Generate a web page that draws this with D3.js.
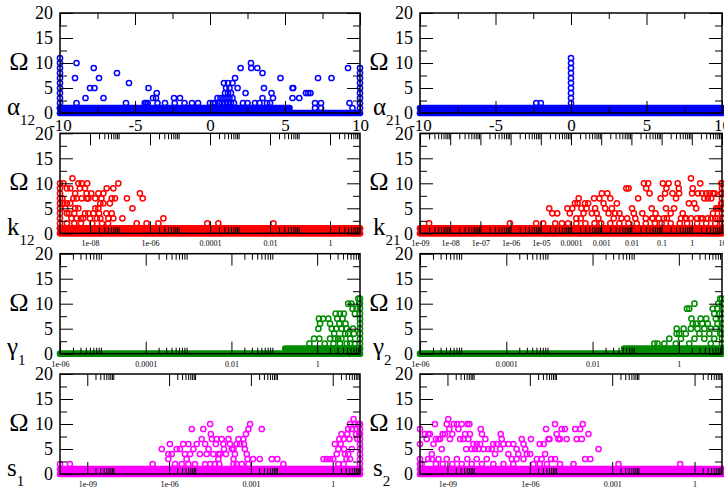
<!DOCTYPE html>
<html>
<head>
<meta charset="utf-8">
<script src="https://cdn.jsdelivr.net/npm/d3@7"></script>
<style>
  body { margin: 0; background: #fff; }
  text { font-family: "Liberation Serif", "DejaVu Serif", serif; }
</style>
</head>
<body>
<svg id="chart" width="724" height="490"></svg>
<script>
// ---- tick values / labels ----
const omegaMajor = [0, 5, 10, 15, 20];
const omegaMinor = [2.5, 7.5, 12.5, 17.5];

const alphaMajor = [-10, -5, 0, 5, 10];
const alphaMinor = [-7.5, -2.5, 2.5, 7.5];
const alphaLabels = ["-10", "-5", "0", "5", "10"];

const k12Major = [1e-8, 1e-6, 1e-4, 1e-2, 1];
const k12Labels = ["1e-08", "1e-06", "0.0001", "0.01", "1"];

const k21Major = [1e-9, 1e-8, 1e-7, 1e-6, 1e-5, 1e-4, 1e-3, 1e-2, 0.1, 1, 10];
const k21Labels = ["1e-09", "1e-08", "1e-07", "1e-06", "1e-05", "0.0001", "0.001", "0.01", "0.1", "1", "10"];

const gammaMajor = [1e-6, 1e-4, 1e-2, 1];
const gammaLabels = ["1e-06", "0.0001", "0.01", "1"];

const sMajor = [1e-9, 1e-6, 1e-3, 1];
const sLabels = ["1e-09", "1e-06", "0.001", "1"];

// ---- dense rows of points: [xFrom, xTo, omega] ----
const alpha12Band = [[-10, 10, 0], [-10, 5.3, 1]];
const alpha21Band = [[-10, 10, 0], [-10, 10, 1]];
const k12Band = [[1e-9, 10, 0], [1e-9, 10, 1]];
const k21Band = [[1e-9, 10, 0], [1e-9, 10, 1]];
const gamma1Band = [[1e-6, 10, 0], [0.18, 10, 1]];
const gamma2Band = [[1e-6, 10, 0], [0.054, 10, 1]];
const s1Band = [[1e-10, 10, 0], [1e-10, 10, 1]];
const s2Band = [[1e-10, 10, 0], [1e-10, 10, 1]];

// ---- scattered points: [x, omega] ----
const alpha12Pts = [
  [-10,1],[-10,2],[-10,3],[-10,4],[-10,5],[-10,6],[-10,7],[-10,8],[-10,9],[-10,10],[-10,11],
  [-8.9,10],[-9.0,7],[-8.9,2],[-7.75,9],[-7.4,7],[-8.0,5],[-7.7,5],[-8.3,3],[-7.1,3],
  [-6.2,8],[-5.4,6],[-5.6,2],[-4.1,5],[-4.35,2],[-4.25,2],[-4.15,2],[-3.8,3],[-3.6,3],
  [-3.55,4],[-3.5,2],[-3.0,2],[-2.4,3],[-2.35,2],[-2.0,3],[-1.7,2],[-1.2,2],[-0.8,2],
  [0.0,2],[0.2,2],[0.35,2],[0.5,3],[0.7,3],[0.6,2],[0.8,2],[0.9,3],[1.0,4],[1.0,2],
  [1.1,3],[1.2,2],[1.3,3],[1.4,2],[1.4,4],[1.5,3],[1.6,2],[0.93,6],[1.07,5],[1.2,4],
  [1.3,5],[1.2,6],[1.5,6],[1.67,7],[1.84,5],[2.04,9],[2.2,2],[2.37,4],[2.5,2],[2.73,10],
  [2.75,9],[3.0,2],[3.15,9],[3.3,2],[3.5,8],[3.6,5],[3.5,3],[3.8,2],[4.0,2],[4.1,4],
  [4.2,3],[4.7,7],[5.5,5],[5.55,5],[5.5,3],[5.95,3],[6.4,4],[6.55,4],[6.7,4],[7.0,2],
  [7.2,7],[7.4,2],[8.1,7],[9.2,9],[9.3,2],[9.5,1],[7.0,1],[7.4,1],
  [10,1],[10,2],[10,3],[10,4],[10,5],[10,6],[10,7],[10,8],[10,9]
];

const alpha21Pts = [
  [0,1],[0,2],[0,3],[0,4],[0,5],[0,6],[0,7],[0,8],[0,9],[0,10],[0,11],
  [-2.3,2],[-2.0,2]
];

const k12Pts = [
  [1e-9,1],[1e-9,2],[1e-9,3],[1e-9,4],[1e-9,5],[1e-9,6],[1e-9,7],[1e-9,8],[1e-9,9],[1e-9,10],
  [1.3e-9,10],[1.7e-9,9],[2.6e-9,11],[2.2e-9,9],[3.2e-9,8],[4.1e-9,10],[4.6e-9,9],[5.3e-9,10],
  [6.8e-9,9],[8.1e-9,10],[7.7e-9,8],[8.8e-9,7],[1.1e-8,8],[1.5e-8,7],[1.9e-8,8],[2.4e-8,7],
  [2.8e-8,8],[3.6e-8,9],[5.3e-8,7],[6e-8,9],[6.8e-8,7],[8.8e-8,10],
  [1.3e-9,6],[1.7e-9,6],[2.2e-9,6],[1.5e-9,5],[3.2e-9,5],[4.1e-9,5],[1.7e-9,4],[6.8e-9,4],
  [8.8e-9,4],[1.5e-8,5],[1.9e-8,5],[2.2e-8,6],[2.8e-8,6],[4.6e-8,6],[5.3e-8,4],[4.1e-8,3],
  [6e-8,3],[1e-8,3],[1.7e-8,3],[2.2e-8,3],[3.6e-9,3],[2.4e-9,3],[6e-9,3],[1.2e-9,7],
  [2.8e-9,7],[3.6e-9,7],[5.3e-9,7],[7.7e-9,7],[2e-9,4],[3e-9,4],[5e-9,3],[1.3e-8,4],
  [2e-8,4],[3.5e-8,4],[1.7e-9,2],[3e-9,2],[5e-9,2],[1.2e-8,2],[2.5e-8,2],[4e-8,2],
  [1.7e-7,7],[2.6e-7,5],[4.6e-7,8],[5.7e-7,7],[1.2e-7,3],[3.6e-7,2],[7.7e-7,2],[1.9e-6,2],
  [2.8e-6,3],[8.1e-5,2],[1.9e-4,2],[0.013,2]
];

const k21Pts = [
  [2e-9,2],[9.5e-7,2],[7e-6,2],[1.2e-5,2],[1.9e-5,5],[2.4e-5,4],[3.5e-5,4],[7.6e-5,5],
  [9.1e-5,4],[1.1e-4,5],[1.35e-4,6],[1.65e-4,6],[1.8e-4,7],[2.2e-4,5],[2.6e-4,4],[1.5e-4,3],
  [2.1e-4,3],[2.9e-4,6],[3.3e-4,5],[3.7e-4,6],[4.9e-4,4],[5.8e-4,7],[6.3e-4,5],[7.1e-4,4],
  [8.1e-4,3],[8.7e-4,7],[1.05e-3,8],[1.2e-3,6],[1.35e-3,5],[1.6e-3,8],[1.75e-3,4],[2e-3,7],
  [2.25e-3,5],[2.6e-3,3],[2.9e-3,4],[3.3e-3,6],[4e-3,4],[4.7e-3,3],[6.8e-3,9],[8.1e-3,9],
  [7.2e-3,3],[0.0105,5],[0.012,4],[0.0135,3],[0.0167,7],[0.026,10],[0.031,9],[0.036,10],
  [0.04,8],[0.023,4],[0.03,3],[0.047,5],[0.049,3],[0.063,4],[0.093,7],[0.11,10],[0.13,8],
  [0.145,9],[0.17,10],[0.23,8],[0.14,5],[0.12,3],[0.2,4],[0.26,5],[0.34,10],[0.37,9],
  [0.38,8],[0.3,7],[0.44,3],[0.5,4],[0.65,3],[0.8,6],[0.94,11],[1.07,9],[1.02,8],[1.2,6],
  [0.94,3],[1.4,5],[1.6,8],[1.9,10],[2.2,8],[2.6,7],[3,8],[3.4,7],[3.9,8],[4.4,7],[5,8],
  [5.7,8],[6.4,5],[7.3,5],[8.3,5],[9.5,10],[9.5,8],[9.5,6],[2.3,3],[3.4,3],[5,4],[7.3,3],
  [4.4,3],[3e-5,2],[5e-5,2],[8e-5,2],[1.5e-4,2],[3e-4,2],[6e-4,2],[1e-3,2],[2e-3,2],
  [4e-3,2],[8e-3,2],[0.015,2],[0.03,2],[0.06,2],[0.1,2],[0.2,2],[0.4,2],[0.7,2],[1.5,2],
  [3,2],[6,2],[0.05,3],[0.08,3],[0.15,3],[0.6,3],[1.5,3],[2,3],[6,3],
  [10,2],[10,3],[10,4],[10,5],[10,6],[10,7],[10,8],[10,9],[10,10]
];

const gamma1Pts = [
  [0.66,2],[0.85,3],[1.12,3],[1.07,5],[1.17,6],[1.1,7],[1.38,7],[1.82,7],[2.0,6],[2.2,5],
  [2.5,4],[2.7,8],[2.95,7],[3.3,6],[3.4,8],[3.9,7],[4.2,8],[4.6,6],[5.3,10],[6.3,10],
  [6.7,9],[7.6,8],[8.3,9],[9.1,11],[9.6,10],[2.6,3],[3.1,3],[3.7,3],[4.5,4],[4.9,5],
  [5.3,4],[5.9,3],[6.9,5],[7.2,4],[7.6,2],[5.9,2],[4.9,2],[3.4,2],[2.4,2],[1.5,2],[2.0,3],
  [2.8,5],[3.7,5],
  [10,2],[10,3],[10,4],[10,5],[10,6],[10,7],[10,8],[10,9],[10,10],[10,11]
];

const gamma2Pts = [
  [0.27,2],[0.32,2],[0.46,2],[0.6,3],[0.85,2],[0.89,4],[0.89,5],[1.02,4],[1.12,3],[1.29,5],
  [1.45,4],[1.54,9],[1.74,9],[2.3,10],[1.96,7],[2.1,6],[1.9,5],[2.5,6],[2.7,5],[3.0,4],
  [3.2,7],[3.5,6],[3.9,5],[4.3,7],[4.7,6],[5.1,4],[5.5,5],[6.1,9],[6.6,8],[7.2,7],[7.9,9],
  [8.2,10],[8.7,8],[9.1,11],[9.1,4],[6.6,3],[5.5,2],[3.9,3],[2.3,3],[1.74,2],[7.2,5],[7.9,6],
  [10,2],[10,3],[10,4],[10,5],[10,6],[10,7],[10,8],[10,9],[10,10],[10,11]
];

const s1Pts = [
  [1e-10,2],[2.3e-10,2],[2.5e-7,2],[5.4e-7,5],[9.4e-7,3],[1.07e-6,6],[9.4e-7,4],[1.25e-6,4],
  [1.9e-6,5],[2.5e-6,5],[1.65e-6,2],[2.9e-6,2],[3.3e-6,6],[3.8e-6,4],[4.4e-6,3],[5.1e-6,6],
  [5.9e-6,4],[6.8e-6,9],[5.1e-6,2],[8.9e-6,2],[7.8e-6,5],[1.03e-5,6],[1.35e-5,4],[1.57e-5,7],
  [1.8e-5,9],[2.1e-5,6],[2.4e-5,4],[2.8e-5,5],[3.2e-5,10],[3.4e-5,8],[3.7e-5,7],[4.2e-5,4],
  [5.2e-5,6],[5.6e-5,7],[6.4e-5,4],[7.4e-5,4],[2.1e-5,2],[3.2e-5,2],[4.8e-5,2],[6.9e-5,2],
  [8.5e-5,7],[9.8e-5,6],[1.03e-4,5],[1.22e-4,4],[1.5e-4,7],[1.7e-4,9],[1.7e-4,6],[2e-4,5],
  [2.3e-4,5],[2.6e-4,4],[3e-4,6],[3.5e-4,7],[4e-4,6],[2.3e-4,2],[3e-4,2],[4.6e-4,2],
  [6.4e-5,3],[2.3e-4,3],[5.3e-4,7],[5.6e-4,6],[6e-4,5],[7e-4,4],[7.5e-4,3],[8.1e-4,2],
  [6.6e-4,8],[8.1e-4,9],[9.3e-4,10],[1.2e-3,3],[2.1e-3,3],[2.5e-3,9],[5.8e-3,3],[9.3e-3,3],
  [0.0155,2],
  [0.46,3],[0.6,3],[0.8,3],[1.05,3],[1.2,6],[1.4,4],[1.6,5],[1.75,7],[1.95,6],[2.1,8],
  [2.5,7],[2.6,5],[2.8,4],[3.2,3],[3.4,8],[3.7,9],[4.1,7],[4.3,10],[5,9],[5.8,11],[6.6,10],
  [7.2,8],[7.6,9],[8,7],[8.7,10],[9.5,8],[4.3,3],[3.7,4],[1.6,2],[2.5,2],[5,5],
  [10,2],[10,3],[10,4],[10,5],[10,6],[10,7],[10,8],[10,9],[10,10]
];

const s2Pts = [
  [1e-10,9],[1e-10,6],[1e-10,3],[1e-10,2],[1.5e-10,8],[2e-10,8],[1.75e-10,7],[2.3e-10,8],
  [3.5e-10,10],[2.7e-10,4],[3.1e-10,6],[3.8e-10,7],[4.7e-10,7],[5.4e-10,7],[6.2e-10,5],
  [6.7e-10,8],[8.1e-10,8],[9.4e-10,10],[1.07e-9,11],[1.17e-9,9],[1.23e-9,7],[1.5e-9,8],
  [1.7e-9,10],[2.2e-9,10],[2.5e-9,9],[2.9e-9,7],[3.3e-9,10],[3.8e-9,7],[4.4e-9,8],[4.8e-9,5],
  [5.3e-9,10],[5.8e-9,7],[6.3e-9,10],[6.6e-9,8],[7.6e-9,5],[8.8e-9,6],[1e-8,5],[1.17e-8,6],
  [1.35e-8,5],[1.63e-8,9],[1.8e-8,8],[1.55e-8,6],[2.1e-8,5],[2.4e-8,7],[3.1e-8,5],[4.1e-8,5],
  [4.7e-8,6],[5.4e-8,4],[6.2e-8,6],[8.7e-8,8],[9.5e-8,7],[8.3e-8,5],[1.1e-7,6],[1.66e-7,6],
  [1.66e-7,4],[2.2e-7,3],[2.5e-7,6],[3.3e-7,5],[3.8e-7,4],[5.1e-7,7],[5.9e-7,6],[6.8e-7,5],
  [5.9e-7,3],[7.8e-7,4],[1.03e-6,4],[1.1e-6,7],[3.3e-7,3],[1.8e-6,3],[2.3e-6,6],[2.7e-6,3],
  [3.2e-6,6],[3.6e-6,4],[3.9e-6,9],[4.8e-6,7],[5.2e-6,7],[6e-6,3],[8.3e-6,10],[8.3e-6,3],
  [9.5e-6,8],[1.1e-5,7],[1.26e-5,7],[1.45e-5,9],[1.9e-5,9],[2.2e-5,7],[4.5e-5,9],[5.1e-5,7],
  [6.8e-5,9],[8.5e-5,10],[7.8e-5,7],[1.03e-4,3],[1.37e-4,8],[1.6e-4,3],[3.2e-4,5],[1.7e-3,2],
  [0.3,2],
  [1.15e-10,2],[2e-10,3],[2.7e-10,3],[4.7e-10,3],[9.4e-10,3],[2.2e-9,3],[5.3e-9,3],
  [1.17e-8,3],[2.7e-8,3],[4.7e-8,2],[1.1e-7,2],[2.5e-7,2],[1.35e-6,2],[2.3e-6,2],[4.2e-6,2],
  [1.26e-5,2],[3.9e-5,2],[3.8e-10,2],[6.7e-10,2],[1.5e-9,2],[3.3e-9,2],[7.6e-9,2],[1.8e-8,2]
];

// ---- panel layout ----
const panels = [
  { row: 0, col: 0, log: false, domain: [-10, 10], major: alphaMajor, minor: alphaMinor, labels: alphaLabels, pts: alpha12Pts, band: alpha12Band, color: "#0000ff", name: "α", sub: "12" },
  { row: 0, col: 1, log: false, domain: [-10, 10], major: alphaMajor, minor: alphaMinor, labels: alphaLabels, pts: alpha21Pts, band: alpha21Band, color: "#0000ff", name: "α", sub: "21" },
  { row: 1, col: 0, log: true, domain: [1e-9, 10], major: k12Major, labels: k12Labels, pts: k12Pts, band: k12Band, color: "#ff0000", name: "k", sub: "12" },
  { row: 1, col: 1, log: true, domain: [1e-9, 10], major: k21Major, labels: k21Labels, pts: k21Pts, band: k21Band, color: "#ff0000", name: "k", sub: "21" },
  { row: 2, col: 0, log: true, domain: [1e-6, 10], major: gammaMajor, labels: gammaLabels, pts: gamma1Pts, band: gamma1Band, color: "#008b00", name: "γ", sub: "1" },
  { row: 2, col: 1, log: true, domain: [1e-6, 10], major: gammaMajor, labels: gammaLabels, pts: gamma2Pts, band: gamma2Band, color: "#008b00", name: "γ", sub: "2" },
  { row: 3, col: 0, log: true, domain: [1e-10, 10], major: sMajor, labels: sLabels, pts: s1Pts, band: s1Band, color: "#ff00ff", name: "s", sub: "1" },
  { row: 3, col: 1, log: true, domain: [1e-10, 10], major: sMajor, labels: sLabels, pts: s2Pts, band: s2Band, color: "#ff00ff", name: "s", sub: "2" }
];

const colX = [60, 420], colW = [300, 302];
const nameOffset = [53, 47];
const rowY = [13, 133.3, 253.7, 374], rowH = 100;
const serif = "'Liberation Serif','DejaVu Serif',serif";
const R = 2.6, SW = 1.5;

const svg = d3.select("#chart");

// log minor ticks: 2..9 times every major
const logMinor = (major, domain) => major
  .flatMap(m => [2, 3, 4, 5, 6, 7, 8, 9].map(k => m * k))
  .filter(v => v > domain[0] && v < domain[1]);

const styleAxis = (sel, size) => {
  sel.select(".domain").remove();
  sel.attr("font-family", serif).attr("font-size", size);
  sel.selectAll("line").attr("stroke", "#000").attr("stroke-width", 1);
  sel.selectAll("text").attr("fill", "#000");
};

panels.forEach(p => {
  const x0 = colX[p.col], w = colW[p.col], y0 = rowY[p.row], h = rowH;
  const x = (p.log ? d3.scaleLog() : d3.scaleLinear()).domain(p.domain).range([x0, x0 + w]);
  const y = d3.scaleLinear().domain([0, 20]).range([y0 + h, y0]);
  const minor = p.log ? logMinor(p.major, p.domain) : p.minor;
  const g = svg.append("g");

  g.append("rect")
    .attr("x", x0).attr("y", y0).attr("width", w).attr("height", h)
    .attr("fill", "#fff");

  // solid rows made of overlapping circles
  g.selectAll(".band").data(p.band).join("line")
    .attr("class", "band")
    .attr("x1", d => x(d[0])).attr("x2", d => x(d[1]))
    .attr("y1", d => y(d[2])).attr("y2", d => y(d[2]))
    .attr("stroke", p.color).attr("stroke-width", 2 * R + SW)
    .attr("stroke-linecap", "round");

  g.selectAll(".pt").data(p.pts).join("circle")
    .attr("class", "pt")
    .attr("cx", d => x(d[0])).attr("cy", d => y(d[1])).attr("r", R)
    .attr("fill", "none").attr("stroke", p.color).attr("stroke-width", SW);

  // x axis (bottom with labels, top mirrored)
  const labelSize = p.log ? 8 : 17;
  const xb = g.append("g").attr("transform", `translate(0,${y0 + h})`)
    .call(d3.axisBottom(x).tickValues(p.major).tickSize(-12).tickPadding(p.log ? 7.5 : 6)
      .tickFormat(d => p.labels[p.major.indexOf(d)]));
  styleAxis(xb, labelSize);
  const xbm = g.append("g").attr("transform", `translate(0,${y0 + h})`)
    .call(d3.axisBottom(x).tickValues(minor).tickSize(-6).tickFormat(""));
  styleAxis(xbm, labelSize);
  const xt = g.append("g").attr("transform", `translate(0,${y0})`)
    .call(d3.axisTop(x).tickValues(p.major).tickSize(-12).tickFormat(""));
  styleAxis(xt, labelSize);
  const xtm = g.append("g").attr("transform", `translate(0,${y0})`)
    .call(d3.axisTop(x).tickValues(minor).tickSize(-6).tickFormat(""));
  styleAxis(xtm, labelSize);

  // y axis (left with labels, right mirrored)
  const yl = g.append("g").attr("transform", `translate(${x0},0)`)
    .call(d3.axisLeft(y).tickValues(omegaMajor).tickSize(-13).tickPadding(7).tickFormat(d3.format("d")));
  styleAxis(yl, 18);
  const ylm = g.append("g").attr("transform", `translate(${x0},0)`)
    .call(d3.axisLeft(y).tickValues(omegaMinor).tickSize(-7).tickFormat(""));
  styleAxis(ylm, 18);
  const yr = g.append("g").attr("transform", `translate(${x0 + w},0)`)
    .call(d3.axisRight(y).tickValues(omegaMajor).tickSize(-13).tickFormat(""));
  styleAxis(yr, 18);
  const yrm = g.append("g").attr("transform", `translate(${x0 + w},0)`)
    .call(d3.axisRight(y).tickValues(omegaMinor).tickSize(-7).tickFormat(""));
  styleAxis(yrm, 18);

  g.append("rect")
    .attr("x", x0).attr("y", y0).attr("width", w).attr("height", h)
    .attr("fill", "none").attr("stroke", "#000").attr("stroke-width", 1.5);

  // Omega label and parameter name
  g.append("text")
    .attr("x", x0 - 41).attr("y", y0 + 57)
    .attr("text-anchor", "middle").attr("font-size", 26)
    .text("Ω");

  const nm = g.append("text")
    .attr("x", x0 - nameOffset[p.col]).attr("y", y0 + h + 1.5)
    .attr("font-size", 25)
    .text(p.name);
  nm.append("tspan").attr("dy", 10).attr("font-size", 15).text(p.sub);
});
</script>
</body>
</html>
